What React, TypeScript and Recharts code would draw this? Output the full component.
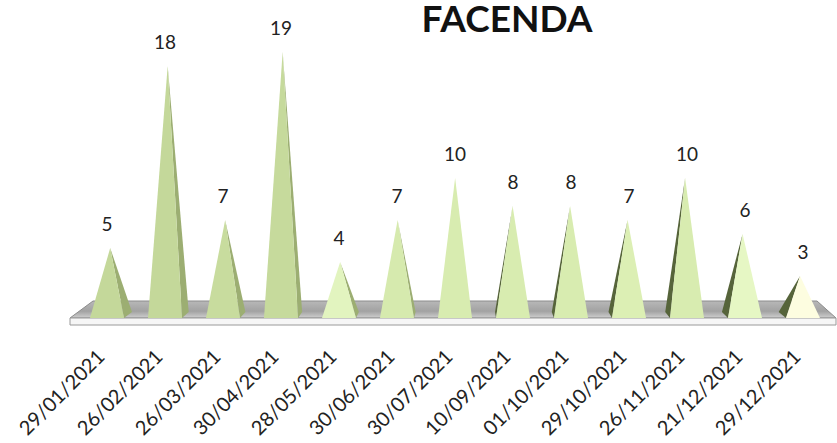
import React from "react";
import { BarChart, Bar, XAxis, YAxis, LabelList, Cell, usePlotArea } from "recharts";

const dates = [
  "29/01/2021",
  "26/02/2021",
  "26/03/2021",
  "30/04/2021",
  "28/05/2021",
  "30/06/2021",
  "30/07/2021",
  "10/09/2021",
  "01/10/2021",
  "29/10/2021",
  "26/11/2021",
  "21/12/2021",
  "29/12/2021",
];
const counts = [5, 18, 7, 19, 4, 7, 10, 8, 8, 7, 10, 6, 3];

// front face colour of each pyramid (gets lighter to the right)
const palette = [
  "#c4d89a", "#c4d89a", "#c8dc9e", "#c6da9c", "#e2f4bf", "#d6eaae", "#d8ecb0",
  "#d8ecb0", "#d8ecb0", "#dcefb4", "#d8ecb0", "#e6f7c4", "#fdfde0",
];

const data = dates.map((d, i) => ({ date: d, value: counts[i] }));

const FONT = "Lato, 'Open Sans', sans-serif";
const VANISH_X = 470;

// 3D pyramid drawn from the bar rect recharts gives us
const Pyramid = (props: any) => {
  const { x, y, width, height, fill } = props;
  if (!height) return null;
  const b = y + height;
  const cx = x + width / 2;
  const dx = (VANISH_X - cx) * 0.022;
  const ax = cx + dx * 0.4;
  const front = `${x},${b} ${x + width},${b} ${ax},${y}`;
  let side = null;
  if (dx > 0.5) {
    side = (
      <polygon
        points={`${ax},${y} ${x + width},${b} ${x + width + dx},${b - 6}`}
        fill="#9cae72"
      />
    );
  } else if (dx < -0.5) {
    side = (
      <polygon
        points={`${ax},${y} ${x},${b} ${x + dx},${b - 6}`}
        fill="#56643a"
      />
    );
  }
  return (
    <g>
      {side}
      <polygon points={front} fill={fill} />
    </g>
  );
};

const Floor = () => {
  const area = usePlotArea();
  if (!area) return null;
  const left = area.x;
  const right = area.x + area.width;
  const b = area.y + area.height;
  return (
    <g>
      <defs>
        <linearGradient id="floorTop" x1="0" y1="0" x2="0" y2="1">
          <stop offset="0%" stopColor="#b8b8b8" />
          <stop offset="60%" stopColor="#a2a2a2" />
          <stop offset="100%" stopColor="#cfcfcf" />
        </linearGradient>
      </defs>
      <polygon
        points={`${left + 15},${b - 17} ${right - 15},${b - 17} ${right + 4},${b} ${left - 8},${b}`}
        fill="url(#floorTop)"
        stroke="#8c8c8c"
        strokeWidth={1}
      />
      <polygon
        points={`${left - 8},${b} ${right + 4},${b} ${right + 4},${b + 7} ${left - 8},${b + 7}`}
        fill="#f6f6f6"
        stroke="#9a9a9a"
        strokeWidth={1}
      />
    </g>
  );
};

const DateTick = (props: any) => {
  const { x, payload } = props;
  const px = x - 1;
  const py = 358;
  return (
    <text
      x={px}
      y={py}
      transform={`rotate(-45, ${px}, ${py})`}
      textAnchor="end"
      fontSize={20}
      fontFamily={FONT}
      fill="#222"
    >
      {payload.value}
    </text>
  );
};

export default function App() {
  return (
    <div style={{ position: "absolute", left: 0, top: 0, width: 837, height: 443, background: "#fff" }}>
      <BarChart
        width={837}
        height={443}
        data={data}
        margin={{ top: 52, right: 5, left: 78, bottom: 0 }}
        barSize={34}
      >
        <Floor />
        <text
          x={507}
          y={32}
          textAnchor="middle"
          fontSize={37}
          fontWeight="bold"
          fontFamily={FONT}
          fill="#111"
        >
          FACENDA
        </text>
        <XAxis
          dataKey="date"
          axisLine={false}
          tickLine={false}
          height={125}
          interval={0}
          tick={<DateTick />}
        />
        <YAxis hide domain={[0, 19]} />
        <Bar dataKey="value" shape={<Pyramid />} isAnimationActive={false}>
          {data.map((d, i) => (
            <Cell key={d.date} fill={palette[i]} />
          ))}
          <LabelList
            dataKey="value"
            position="top"
            offset={17}
            fontSize={19}
            fontFamily={FONT}
            fill="#222"
          />
        </Bar>
      </BarChart>
    </div>
  );
}
